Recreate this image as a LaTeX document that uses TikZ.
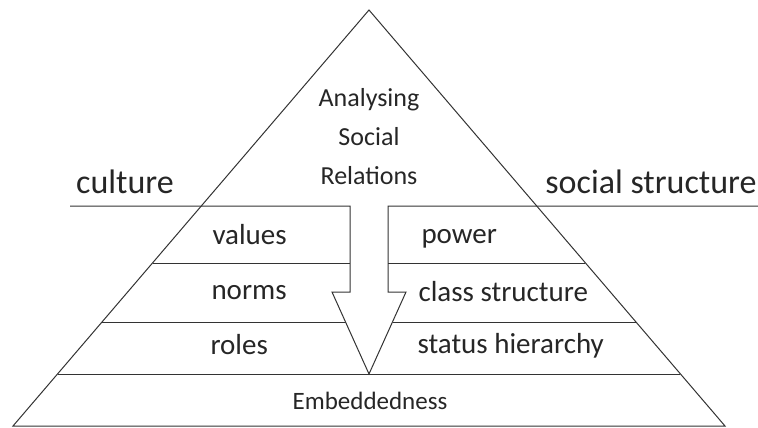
\documentclass[tikz,border=0pt]{standalone}
\usepackage{fontspec}
\setmainfont{Carlito}
\begin{document}
\begin{tikzpicture}[x=1pt,y=-1pt,line width=1pt,draw=black!80,
  every node/.style={text=black!85,inner sep=0pt},
  big/.style={font=\fontsize{34}{40}\selectfont,anchor=base},
  layer/.style={font=\fontsize{29}{35}\selectfont,anchor=base west},
  small/.style={font=\fontsize{25}{39}\selectfont}]
\useasboundingbox (0,0) rectangle (758,428);
% pyramid
\draw [line width=1pt] (13,426) -- (369,10) -- (725,426) -- cycle;
% divider with arrow
\draw [line width=1pt,line join=miter] (70,206) -- (350,206) -- (350,292) -- (332,292) -- (369,374) -- (406,292) -- (388,292) -- (388,206) -- (758,206);
\draw [line width=1pt] (153,263) -- (350,263);
\draw [line width=1pt] (388,263) -- (585,263);
\draw [line width=1pt] (102,322) -- (345.5,322);
\draw [line width=1pt] (392.5,322) -- (636,322);
\draw [line width=1pt] (57.6,374) -- (680.4,374);
% labels
\node[small,font=\fontsize{26}{39}\selectfont,align=center,anchor=base] (title) at (369,184) {Analysing\\Social\\Relations};
\node[big] (culture) at (125,193) {culture};
\node[big] (social) at (651,193) {social structure};
\node[layer] (values) at (212,244) {values};
\node[layer] (norms) at (211,299) {norms};
\node[layer] (roles) at (210,354) {roles};
\node[layer] (power) at (421,243) {power};
\node[layer] (class) at (418,301) {class structure};
\node[layer] (status) at (417,353) {status hierarchy};
\node[small,anchor=base] (embed) at (370,409) {Embeddedness};
\end{tikzpicture}
\end{document}
